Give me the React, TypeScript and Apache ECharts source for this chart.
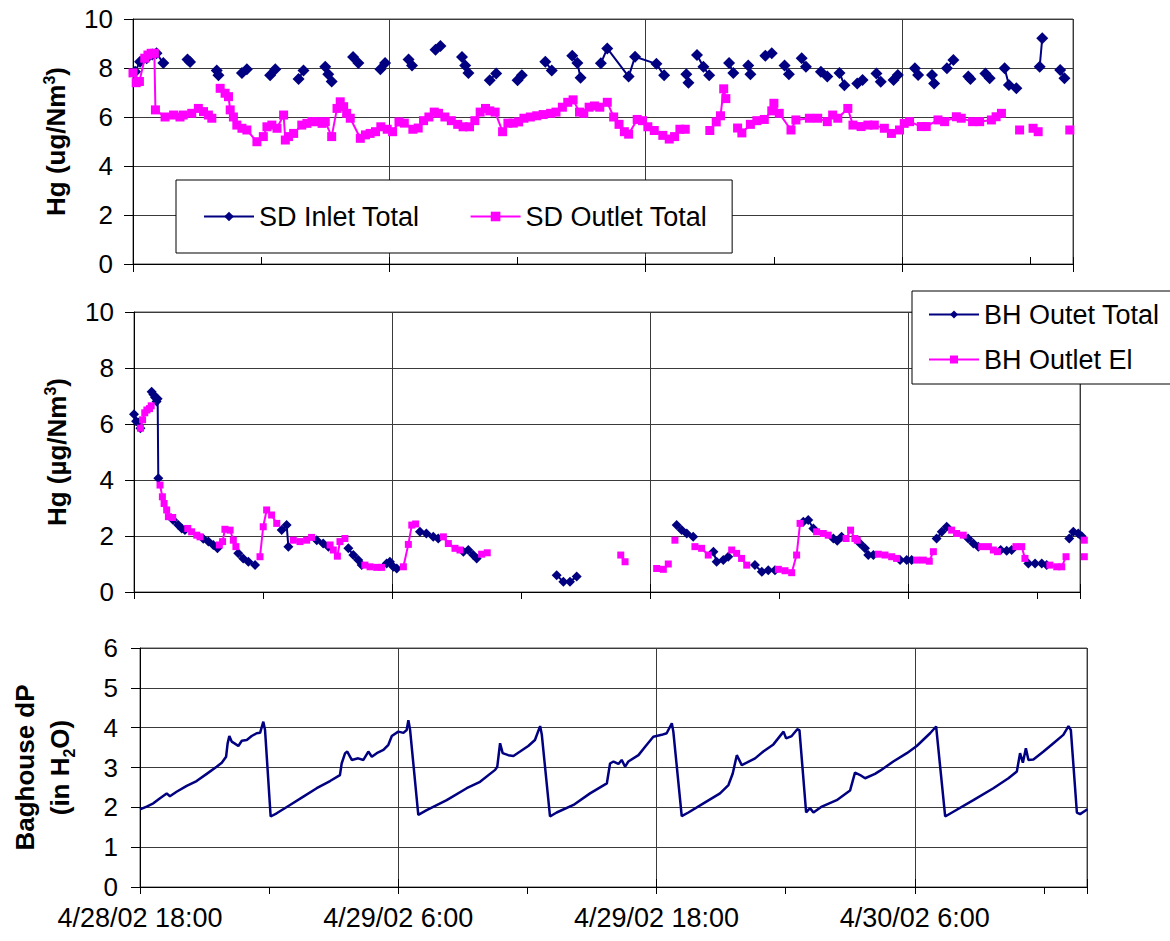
import React, { useEffect, useRef } from 'react';
import * as echarts from 'echarts';

const FONT = '"Liberation Sans", Arial, Helvetica, sans-serif';
const NAVY = '#000080';
const MAGENTA = '#FF00FF';

// x values: hours after 4/28/02 18:00
const xMin = 0;
const xMax = 44;
const xTickLabels = ['4/28/02 18:00', '4/29/02 6:00', '4/29/02 18:00', '4/30/02 6:00'];

type Pt = [number, number] | null;

const sdInlet: Pt[] = [
  [0.1, 7.85], [0.33, 8.26], [0.64, 8.4], [0.9, 8.55], [1.1, 8.6], [1.42, 8.2], null,
  [2.55, 8.35], [2.67, 8.25], null,
  [3.92, 7.9], [4.0, 7.7], null,
  [5.1, 7.8], [5.33, 7.95], null,
  [6.42, 7.7], [6.66, 7.95], null,
  [7.75, 7.55], [7.98, 7.9], null,
  [9.0, 8.05], [9.14, 7.75], [9.3, 7.45], null,
  [10.3, 8.45], [10.55, 8.2], null,
  [11.58, 7.95], [11.8, 8.2], null,
  [12.9, 8.35], [13.06, 8.1], null,
  [14.16, 8.75], [14.39, 8.9], null,
  [15.4, 8.45], [15.55, 8.1], [15.7, 7.8], null,
  [16.7, 7.5], [17.0, 7.78], null,
  [18.0, 7.5], [18.2, 7.7], null,
  [19.3, 8.26], [19.6, 7.9], null,
  [20.56, 8.5], [20.8, 8.2], [20.95, 7.6], null,
  [21.9, 8.19], [22.2, 8.8], [23.2, 7.65], [23.5, 8.46], [24.5, 8.17], [24.86, 7.7], null,
  [25.9, 7.75], [26.0, 7.4], null,
  [26.4, 8.53], [26.7, 8.05], [26.97, 7.7], null,
  [27.9, 8.2], [28.1, 7.8], null,
  [28.8, 8.1], [28.9, 7.75], null,
  [29.6, 8.5], [29.9, 8.6], null,
  [30.5, 8.1], [30.7, 7.75], null,
  [31.3, 8.4], [31.5, 8.05], null,
  [32.2, 7.85], [32.5, 7.65], null,
  [33.07, 7.8], [33.3, 7.3], null,
  [33.9, 7.37], [34.15, 7.51], null,
  [34.8, 7.78], [35.0, 7.44], null,
  [35.6, 7.51], [35.8, 7.71], null,
  [36.6, 7.99], [36.75, 7.71], null,
  [37.4, 7.71], [37.5, 7.37], null,
  [38.1, 7.99], [38.4, 8.33], null,
  [39.1, 7.65], [39.2, 7.55], null,
  [39.9, 7.78], [40.1, 7.58], null,
  [40.8, 7.99], [41.0, 7.31], [41.35, 7.17], null,
  [42.44, 8.05], [42.56, 9.21], null,
  [43.4, 7.92], [43.6, 7.58],
];

const sdOutlet: Pt[] = [
  [0.0, 7.8], [0.15, 7.4], [0.3, 7.45], [0.55, 8.4], [0.7, 8.53], [0.85, 8.6], [1.0, 8.6], [1.05, 6.29],
  [1.5, 6.0], [1.9, 6.08], [2.2, 6.0], [2.35, 6.08], [2.75, 6.15], [3.06, 6.35], [3.3, 6.22], [3.53, 6.08], [3.69, 5.95], null,
  [4.08, 7.17], [4.31, 6.97], [4.47, 6.83], [4.55, 6.29], [4.7, 6.0], [4.86, 5.67], [5.1, 5.54], [5.33, 5.47],
  [5.8, 4.99], [6.1, 5.2], [6.27, 5.6], [6.5, 5.67], [6.74, 5.54], [7.05, 6.08], [7.13, 5.06], [7.28, 5.2], [7.52, 5.33],
  [7.9, 5.67], [8.14, 5.74], [8.38, 5.81], [8.61, 5.81], [8.85, 5.74], [9.0, 5.81], [9.3, 5.2], [9.55, 6.35],
  [9.7, 6.62], [9.86, 6.42], [10.0, 6.15], [10.17, 5.95], [10.64, 5.13], [10.88, 5.27], [11.1, 5.33], [11.35, 5.4],
  [11.6, 5.6], [11.9, 5.5], [12.15, 5.4], [12.45, 5.8], [12.7, 5.75], [13.1, 5.5], [13.35, 5.55], [13.6, 5.85],
  [13.85, 6.0], [14.1, 6.2], [14.3, 6.15], [14.6, 6.0], [14.9, 5.85], [15.2, 5.7], [15.45, 5.6], [15.75, 5.6],
  [16.0, 5.85], [16.25, 6.2], [16.5, 6.35], [16.7, 6.25], [16.95, 6.2], [17.3, 5.4], [17.55, 5.75], [17.8, 5.75],
  [18.05, 5.8], [18.3, 5.95], [18.6, 6.0], [18.9, 6.05], [19.2, 6.1], [19.55, 6.15], [19.8, 6.2], [20.1, 6.4],
  [20.35, 6.6], [20.6, 6.7], [20.9, 6.2], [21.1, 6.15], [21.35, 6.4], [21.6, 6.45], [21.85, 6.4], [22.2, 6.6],
  [22.5, 6.0], [22.75, 5.7], [23.0, 5.4], [23.2, 5.3], [23.6, 5.9], [23.85, 5.85], [24.1, 5.6], [24.4, 5.45],
  [24.8, 5.25], [25.1, 5.1], [25.35, 5.2], [25.6, 5.5], [25.85, 5.5], null,
  [27.0, 5.45], [27.3, 5.8], [27.5, 6.05], [27.65, 7.15], [27.75, 6.75], null,
  [28.3, 5.55], [28.5, 5.35], [28.9, 5.7], [29.2, 5.85], [29.55, 5.9], [29.9, 6.25], [30.0, 6.56], [30.25, 6.15],
  [30.8, 5.47], [31.03, 5.88], [31.66, 5.95], [32.05, 5.95], [32.5, 5.81], [32.75, 6.08], [32.99, 5.95], [33.46, 6.35],
  [33.7, 5.67], [34.08, 5.61], [34.4, 5.67], [34.7, 5.67], [35.17, 5.54], [35.5, 5.33], [35.88, 5.47], [36.1, 5.74],
  [36.35, 5.81], [36.9, 5.61], [37.13, 5.61], [37.68, 5.88], [37.99, 5.81], [38.54, 6.01], [38.77, 5.95], [39.3, 5.81],
  [39.63, 5.81], [40.18, 5.88], [40.4, 6.01], [40.65, 6.15], null,
  [41.5, 5.47], null,
  [42.13, 5.54], [42.37, 5.4], null,
  [43.85, 5.47],
];

const bhTotal: Pt[] = [
  [0.0, 6.35], [0.1, 6.1], [0.2, 6.05], [0.3, 5.85], null,
  [0.82, 7.15], [0.9, 7.05], [0.98, 6.95], [1.05, 6.8], [1.1, 6.9], [1.13, 4.06], null,
  [1.82, 2.57], [2.06, 2.39], [2.22, 2.27], [2.37, 2.21], null,
  [3.22, 1.9], [3.46, 1.8], [3.69, 1.68], [3.88, 1.56], null,
  [4.85, 1.38], [5.08, 1.2], [5.32, 1.08], [5.63, 0.96], null,
  [6.87, 2.21], [7.1, 2.39], [7.18, 1.62], null,
  [8.5, 1.85], [8.8, 1.73], [9.04, 1.62], null,
  [9.97, 1.56], [10.2, 1.32], [10.43, 1.14], [10.59, 0.96], null,
  [11.75, 1.02], [11.9, 1.08], [12.06, 0.9], [12.22, 0.84], null,
  [13.3, 2.15], [13.6, 2.09], [13.92, 1.97], [14.15, 1.91], null,
  [15.32, 1.44], [15.55, 1.5], [15.78, 1.32], [15.94, 1.2], null,
  [19.66, 0.6], [19.97, 0.37], [20.28, 0.37], [20.59, 0.55], null,
  [25.24, 2.39], [25.47, 2.21], [25.71, 2.09], [26.01, 1.97], null,
  [26.95, 1.44], [27.1, 1.08], [27.41, 1.14], [27.64, 1.26], null,
  [28.88, 0.96], [29.2, 0.72], [29.5, 0.78], [29.81, 0.78], null,
  [31.13, 2.51], [31.36, 2.57], [31.6, 2.27], null,
  [32.53, 1.91], [32.71, 1.83], [32.91, 1.97], null,
  [33.77, 1.73], [34.0, 1.56], [34.15, 1.32], [34.39, 1.32], null,
  [35.63, 1.14], [35.94, 1.14], [36.17, 1.14], null,
  [37.33, 1.91], [37.57, 2.15], [37.8, 2.33], null,
  [38.8, 1.91], [39.04, 1.73], [39.27, 1.62], null,
  [40.31, 1.5], [40.59, 1.47], [40.82, 1.5], null,
  [41.6, 1.02], [41.91, 1.02], [42.22, 1.02], [42.45, 0.96], null,
  [43.5, 1.91], [43.69, 2.15], [43.92, 2.09], [44.08, 1.99],
];

const bhEl: Pt[] = [
  [0.3, 5.85], [0.4, 6.15], [0.5, 6.4], [0.6, 6.5], [0.72, 6.55], [0.8, 6.65], null,
  [1.21, 3.82], [1.32, 3.4], [1.4, 3.16], [1.52, 2.93], [1.6, 2.69], [1.8, 2.66], null,
  [2.5, 2.27], [2.68, 2.15], [2.92, 2.03], [3.07, 1.97], null,
  [3.97, 1.68], [4.12, 1.8], [4.23, 2.24], [4.47, 2.21], [4.62, 1.85], [4.74, 1.62], null,
  [5.86, 1.26], [6.01, 2.33], [6.17, 2.93], [6.4, 2.75], [6.64, 2.45], null,
  [7.41, 1.85], [7.72, 1.8], [8.03, 1.85], [8.26, 1.95], null,
  [9.12, 1.68], [9.27, 1.5], [9.46, 1.28], [9.58, 1.8], [9.81, 1.91], null,
  [10.74, 0.96], [10.98, 0.9], [11.29, 0.88], [11.52, 0.88], null,
  [12.53, 0.9], [12.76, 1.7], [12.92, 2.39], [13.1, 2.43], null,
  [14.39, 1.97], [14.62, 1.73], [14.93, 1.56], [15.16, 1.5], null,
  [16.17, 1.35], [16.43, 1.4], null,
  [22.64, 1.32], [22.84, 1.08], null,
  [24.31, 0.84], [24.62, 0.81], [24.85, 1.0], null,
  [25.16, 1.85], null,
  [26.09, 1.62], [26.4, 1.56], [26.71, 1.32], null,
  [27.8, 1.5], [28.03, 1.38], [28.26, 1.2], [28.5, 0.96], null,
  [29.97, 0.81], [30.28, 0.76], [30.59, 0.69], [30.82, 1.32], [30.98, 2.45], null,
  [31.75, 2.15], [32.06, 2.09], [32.29, 2.03], null,
  [33.12, 1.91], [33.33, 2.21], [33.53, 1.91], [33.64, 1.85], null,
  [34.62, 1.35], [34.93, 1.32], [35.24, 1.26], [35.47, 1.2], null,
  [36.4, 1.14], [36.71, 1.14], [36.99, 1.1], [37.18, 1.44], null,
  [38.03, 2.21], [38.26, 2.09], [38.57, 2.03], null,
  [39.43, 1.62], [39.74, 1.62], [39.97, 1.5], [40.16, 1.44], null,
  [41.02, 1.62], [41.29, 1.62], [41.44, 1.2], null,
  [42.6, 0.96], [42.92, 0.9], [43.15, 0.9], [43.35, 1.26], null,
  [44.2, 1.85], [44.2, 1.26],
];

const baghouseDP: Pt[] = [
  [0.0, 1.95], [0.31, 2.02], [0.62, 2.1], [0.93, 2.23], [1.24, 2.35], [1.39, 2.28], [1.7, 2.39], [2.17, 2.54],
  [2.63, 2.66], [3.1, 2.84], [3.56, 3.02], [3.8, 3.12], [4.0, 3.27], [4.07, 3.6], [4.15, 3.79], [4.26, 3.65],
  [4.41, 3.6], [4.57, 3.54], [4.73, 3.67], [4.96, 3.69], [5.19, 3.79], [5.42, 3.86], [5.58, 3.87], [5.73, 4.15],
  [5.81, 3.94], [6.07, 1.77], [6.35, 1.85], [6.97, 2.06], [7.59, 2.27], [8.21, 2.48], [8.83, 2.66], [9.29, 2.81],
  [9.37, 3.1], [9.53, 3.36], [9.63, 3.4], [9.84, 3.19], [10.14, 3.23], [10.38, 3.19], [10.61, 3.4], [10.77, 3.27],
  [11.0, 3.36], [11.31, 3.44], [11.54, 3.57], [11.7, 3.79], [12.0, 3.9], [12.24, 3.87], [12.39, 3.94], [12.47, 4.19],
  [12.55, 3.94], [12.93, 1.81], [13.32, 1.93], [14.25, 2.18], [15.18, 2.48], [15.8, 2.64], [16.5, 2.94], [16.6, 3.02],
  [16.73, 3.61], [16.85, 3.36], [17.11, 3.31], [17.35, 3.29], [17.66, 3.4], [18.04, 3.54], [18.35, 3.69], [18.59, 4.04],
  [18.67, 3.82], [19.05, 1.77], [19.36, 1.87], [20.14, 2.06], [20.91, 2.35], [21.69, 2.6], [21.84, 3.1], [22.0, 3.15],
  [22.23, 3.09], [22.38, 3.19], [22.54, 3.02], [22.69, 3.15], [23.16, 3.31], [23.47, 3.52], [23.85, 3.77], [24.24, 3.82],
  [24.47, 3.86], [24.71, 4.11], [24.78, 3.9], [25.17, 1.78], [25.48, 1.87], [26.18, 2.1], [26.95, 2.35], [27.34, 2.56],
  [27.54, 2.85], [27.73, 3.31], [27.96, 3.06], [28.19, 3.12], [28.58, 3.23], [28.96, 3.4], [29.43, 3.58], [29.9, 3.9],
  [30.02, 3.73], [30.28, 3.79], [30.54, 3.96], [30.64, 3.94], [30.95, 1.87], [31.13, 1.98], [31.29, 1.87], [31.68, 2.02],
  [32.37, 2.18], [32.99, 2.42], [33.22, 2.87], [33.46, 2.81], [33.69, 2.73], [34.15, 2.84], [34.39, 2.92], [35.0, 3.15],
  [35.63, 3.36], [36.09, 3.54], [36.71, 3.86], [36.99, 4.03], [37.41, 1.77], [37.79, 1.89], [38.72, 2.18], [39.65, 2.48],
  [40.35, 2.73], [40.74, 2.9], [40.89, 3.36], [41.02, 3.12], [41.16, 3.48], [41.28, 3.19], [41.51, 3.2], [41.98, 3.4],
  [42.44, 3.61], [42.9, 3.82], [43.14, 4.04], [43.25, 3.94], [43.53, 1.87], [43.68, 1.83], [44.02, 1.95],
];

const GRID_COLOR = '#3a3a3a';

function yAxis(gridIndex: number, max: number, interval: number, name: string, nameGap: number, labelMargin: number, rich: any) {
  return {
    type: 'value', gridIndex, min: 0, max, interval,
    axisLine: { show: true, onZero: false, lineStyle: { color: '#000', width: 1 } },
    axisTick: { show: true, inside: false, length: 9, lineStyle: { color: '#000', width: 1 } },
    axisLabel: { color: '#000', fontSize: 26, fontFamily: FONT, margin: labelMargin },
    splitLine: { show: true, lineStyle: { color: GRID_COLOR, width: 1 } },
    name, nameLocation: 'middle', nameGap, nameRotate: 90,
    nameTextStyle: { rich },
  };
}

function xMinorAxis(gridIndex: number, inside: boolean) {
  return {
    type: 'value', gridIndex, min: xMin, max: xMax, interval: 6, position: 'bottom',
    axisLine: { show: true, onZero: false, lineStyle: { color: '#000', width: 1 } },
    axisTick: { show: true, inside, length: 7, lineStyle: { color: '#000', width: 1 } },
    axisLabel: { show: false },
    splitLine: { show: false },
  };
}

function xMajorAxis(gridIndex: number, inside: boolean, labels: boolean) {
  return {
    type: 'value', gridIndex, min: xMin, max: xMax, interval: 12, position: 'bottom',
    axisLine: { show: false, onZero: false },
    axisTick: { show: true, inside, length: 8, lineStyle: { color: '#000', width: 1 } },
    axisLabel: labels
      ? {
          show: true, color: '#000', fontSize: 27, fontFamily: FONT, margin: 17,
          formatter: (v: number) => {
            const i = Math.round(v / 12);
            return Math.abs(v - i * 12) < 1e-6 && i < xTickLabels.length ? xTickLabels[i] : '';
          },
        }
      : { show: false },
    splitLine: { show: true, lineStyle: { color: GRID_COLOR, width: 1 } },
  };
}

const nameRich = (size: number, lh: number) => ({
  t: { fontSize: size, fontWeight: 'bold', fontFamily: FONT, color: '#000', lineHeight: lh },
  s: { fontSize: 16, fontWeight: 'bold', fontFamily: FONT, color: '#000', verticalAlign: 'top', lineHeight: 16 },
  b: { fontSize: 16, fontWeight: 'bold', fontFamily: FONT, color: '#000', verticalAlign: 'bottom', lineHeight: 16 },
});

function buildOption() {
  const legendText = { fontSize: 27, color: '#000', fontFamily: FONT };
  return {
    animation: false,
    backgroundColor: '#fff',
    grid: [
      { left: 133, top: 19, width: 940, height: 245, show: true, borderColor: '#555', borderWidth: 1 },
      { left: 134, top: 312, width: 946, height: 280, show: true, borderColor: '#555', borderWidth: 1 },
      { left: 140, top: 648, width: 947, height: 239, show: true, borderColor: '#555', borderWidth: 1 },
    ],
    xAxis: [
      xMinorAxis(0, true), xMajorAxis(0, false, false),
      xMinorAxis(1, false), xMajorAxis(1, true, false),
      xMinorAxis(2, false), xMajorAxis(2, true, true),
    ],
    yAxis: [
      yAxis(0, 10, 2, '{t|Hg (ug/Nm}{s|3}{t|)}', 62, 20, nameRich(26, 30)),
      yAxis(1, 10, 2, '{t|Hg (µg/Nm}{s|3}{t|)}', 62, 20, nameRich(26, 30)),
      yAxis(2, 6, 1, '{t|Baghouse dP}\n{t|(in H}{b|2}{t|O)}', 63, 22, nameRich(26, 35)),
    ],
    legend: [
      {
        data: ['SD Inlet Total', 'SD Outlet Total'],
        left: 176, top: 180, orient: 'horizontal',
        backgroundColor: '#fff', borderColor: '#000', borderWidth: 1,
        padding: [23, 25, 23, 27], itemGap: 50, itemWidth: 50, itemHeight: 12,
        textStyle: legendText, selectedMode: false,
      },
      {
        data: ['BH Outet Total', 'BH Outlet El'],
        left: 912, top: 291, orient: 'vertical',
        backgroundColor: '#fff', borderColor: '#000', borderWidth: 1,
        padding: [10, 13, 11, 16], itemGap: 18, itemWidth: 50, itemHeight: 10,
        textStyle: legendText, selectedMode: false,
      },
    ],
    series: [
      {
        name: 'SD Inlet Total', type: 'line', xAxisIndex: 0, yAxisIndex: 0, data: sdInlet,
        symbol: 'diamond', symbolSize: 12, showAllSymbol: true, connectNulls: false,
        itemStyle: { color: NAVY }, lineStyle: { color: NAVY, width: 2 }, z: 3,
      },
      {
        name: 'SD Outlet Total', type: 'line', xAxisIndex: 0, yAxisIndex: 0, data: sdOutlet,
        symbol: 'rect', symbolSize: 9, showAllSymbol: true, connectNulls: false,
        itemStyle: { color: MAGENTA }, lineStyle: { color: MAGENTA, width: 2 }, z: 4,
      },
      {
        name: 'BH Outet Total', type: 'line', xAxisIndex: 2, yAxisIndex: 1, data: bhTotal,
        symbol: 'diamond', symbolSize: 10, showAllSymbol: true, connectNulls: false, clip: false,
        itemStyle: { color: NAVY }, lineStyle: { color: NAVY, width: 2 }, z: 3,
      },
      {
        name: 'BH Outlet El', type: 'line', xAxisIndex: 2, yAxisIndex: 1, data: bhEl,
        symbol: 'rect', symbolSize: 7, showAllSymbol: true, connectNulls: false, clip: false,
        itemStyle: { color: MAGENTA }, lineStyle: { color: MAGENTA, width: 2 }, z: 4,
      },
      {
        name: 'Baghouse dP', type: 'line', xAxisIndex: 4, yAxisIndex: 2, data: baghouseDP,
        symbol: 'none', showSymbol: false,
        lineStyle: { color: NAVY, width: 2.5 }, itemStyle: { color: NAVY }, z: 3,
      },
    ],
  };
}

export default function App() {
  const ref = useRef<HTMLDivElement>(null);
  useEffect(() => {
    if (!ref.current) return;
    const chart = echarts.init(ref.current, undefined, { renderer: 'svg' });
    chart.setOption(buildOption() as any);
    return () => chart.dispose();
  }, []);
  return (
    <div
      ref={ref}
      style={{ position: 'absolute', left: 0, top: 0, width: 1170, height: 941, background: '#fff' }}
    />
  );
}
